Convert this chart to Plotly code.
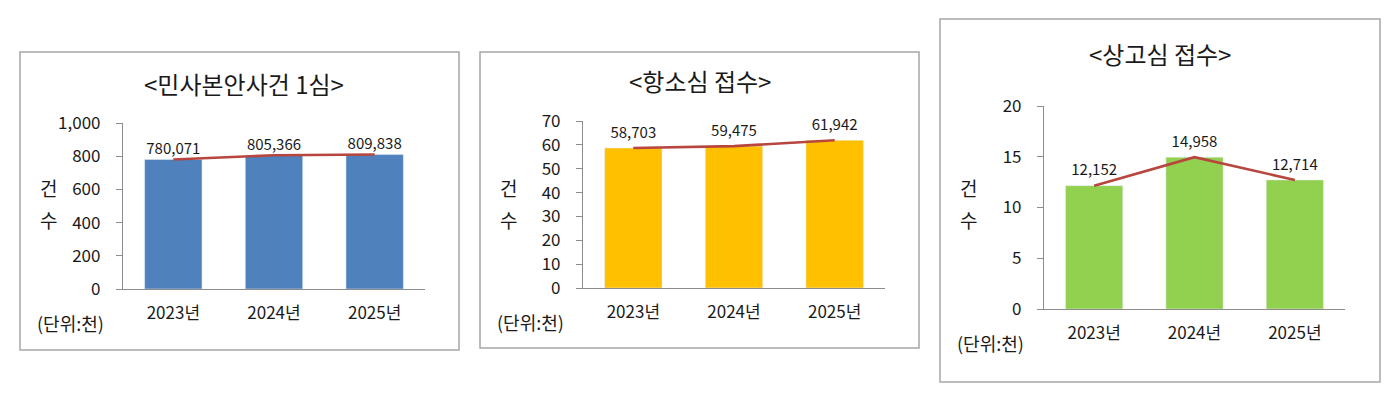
import plotly.graph_objects as go

# data (raw counts; bars are plotted in thousands)
years = ["2023년", "2024년", "2025년"]
civil_first = [780071, 805366, 809838]
appeal = [58703, 59475, 61942]
supreme = [12152, 14958, 12714]

titles = ["<민사본안사건 1심>", "<항소심 접수>", "<상고심 접수>"]
bar_colors = ["#4F81BD", "#FFC000", "#92D050"]
line_color = "#B8463F"
font = "Noto Sans CJK KR"

W, H = 1400, 402

# pixel layout for each panel: plot area (x0, x1, ytop, ybottom), box, y range/ticks
panels = [
    dict(vals=civil_first, plot=(123, 425, 123, 289), box=(20, 459, 52, 350),
         rng=[0, 1000], dtick=200, fmt=",", title_y=83, unit_y=323, msize=1),
    dict(vals=appeal, plot=(583, 885, 121, 288), box=(480, 919, 52, 348),
         rng=[0, 70], dtick=10, fmt="", title_y=80, unit_y=322, msize=9),
    dict(vals=supreme, plot=(1044, 1345, 106, 309), box=(940, 1380, 19, 382),
         rng=[0, 20], dtick=5, fmt="", title_y=53, unit_y=343, msize=9),
]

fig = go.Figure()
layout = dict(width=W, height=H, margin=dict(l=0, r=0, t=0, b=0, autoexpand=False),
              paper_bgcolor="white", plot_bgcolor="white", showlegend=False,
              font=dict(family=font, color="#1a1a1a"))
shapes = []
annotations = []

for i, p in enumerate(panels):
    n = i + 1
    xa = "x" if n == 1 else f"x{n}"
    ya = "y" if n == 1 else f"y{n}"
    thousands = [v / 1000 for v in p["vals"]]
    labels = [f"{v:,}" for v in p["vals"]]

    fig.add_trace(go.Bar(x=years, y=thousands, marker_color=bar_colors[i],
                         width=0.57, xaxis=xa, yaxis=ya, hoverinfo="skip"))
    fig.add_trace(go.Scatter(x=years, y=thousands, mode="lines+markers+text",
                             line=dict(color=line_color, width=2.6),
                             marker=dict(size=p["msize"], opacity=0),
                             text=labels, textposition="top center",
                             textfont=dict(size=15, color="#1a1a1a", family=font),
                             xaxis=xa, yaxis=ya, hoverinfo="skip", cliponaxis=False))

    x0, x1, yt, yb = p["plot"]
    layout[f"xaxis{'' if n == 1 else n}"] = dict(
        domain=[x0 / W, x1 / W], anchor=ya, type="category", range=[-0.5, 2.5],
        showline=True, linecolor="#8C8C8C", linewidth=1.2, ticks="",
        showgrid=False, zeroline=False, fixedrange=True, automargin=False,
        tickfont=dict(size=17, family=font, color="#1a1a1a"),
        ticklabelstandoff=8)
    layout[f"yaxis{'' if n == 1 else n}"] = dict(
        domain=[1 - yb / H, 1 - yt / H], anchor=xa, range=p["rng"], dtick=p["dtick"],
        tickformat=p["fmt"], showline=True, linecolor="#8C8C8C", linewidth=1.2,
        ticks="outside", ticklen=6, tickcolor="#8C8C8C", tickwidth=1.2,
        showgrid=False, zeroline=False, fixedrange=True, automargin=False,
        tickfont=dict(size=17, family=font, color="#1a1a1a"),
        ticklabelstandoff=12)
    # inner half of the cross ticks
    layout[f"yaxis{n + 3}"] = dict(
        domain=[1 - yb / H, 1 - yt / H], anchor=xa, overlaying=ya, range=p["rng"],
        dtick=p["dtick"], ticks="inside", ticklen=6, tickcolor="#8C8C8C",
        tickwidth=1.2, showticklabels=False, showgrid=False, zeroline=False,
        showline=False, fixedrange=True, automargin=False)

    bx0, bx1, by0, by1 = p["box"]
    shapes.append(dict(type="rect", xref="paper", yref="paper",
                       x0=bx0 / W, x1=bx1 / W, y0=1 - by1 / H, y1=1 - by0 / H,
                       line=dict(color="#A6A6A6", width=1.5)))

    annotations.append(dict(text=titles[i], xref="paper", yref="paper",
                            x=(bx0 + bx1) / 2 / W + 0.003 * (i == 0), y=1 - p["title_y"] / H,
                            showarrow=False, font=dict(size=24, family=font, color="#1a1a1a"),
                            xanchor="center", yanchor="middle"))
    for ch, cy in (("건", 187), ("수", 219)):
        annotations.append(dict(text=ch, xref="paper", yref="paper",
                                x=(bx0 + 28) / W, y=1 - cy / H,
                                showarrow=False,
                                font=dict(size=19, family=font, color="#1a1a1a"),
                                xanchor="center", yanchor="middle"))
    annotations.append(dict(text="(단위:천)", xref="paper", yref="paper",
                            x=(bx0 + 15) / W, y=1 - p["unit_y"] / H,
                            showarrow=False, font=dict(size=18, family=font, color="#1a1a1a"),
                            xanchor="left", yanchor="middle"))

layout["shapes"] = shapes
layout["annotations"] = annotations
fig.update_layout(**layout)

fig.write_html("out.html", config={"displayModeBar": False},
               post_script="document.body.style.margin='0';")
